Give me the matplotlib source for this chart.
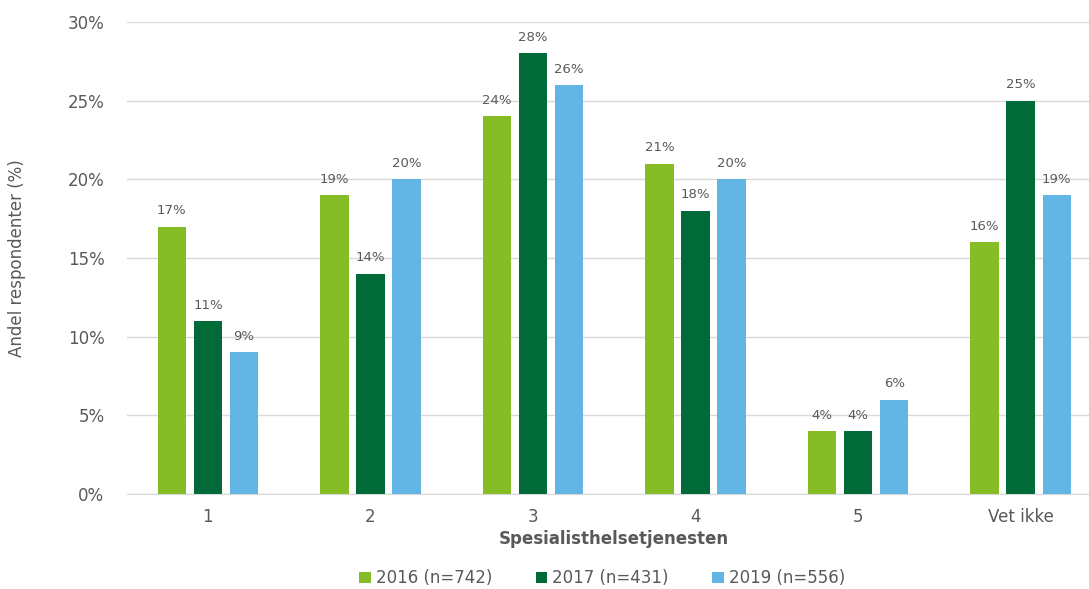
import numpy as np
import matplotlib
matplotlib.use("Agg")
import matplotlib.pyplot as plt
from matplotlib.ticker import FuncFormatter

plt.rcParams["font.family"] = ["DejaVu Sans"]

categories = ["1", "2", "3", "4", "5", "Vet ikke"]
series_labels = ["2016 (n=742)", "2017 (n=431)", "2019 (n=556)"]
values_2016 = [17, 19, 24, 21, 4, 16]
values_2017 = [11, 14, 28, 18, 4, 25]
values_2019 = [9, 20, 26, 20, 6, 19]

COLORS = ["#86BC25", "#006A38", "#62B5E5"]
TEXT = "#595959"

fig = plt.figure(figsize=(10.89, 5.89), dpi=100)
ax = fig.add_axes([0.1163, 0.1613, 0.8956, 0.8013])

x = np.arange(len(categories))
width = 0.175
step = 0.222
for i, (vals, label) in enumerate(zip([values_2016, values_2017, values_2019], series_labels)):
    pos = x + (i - 1) * step
    bars = ax.bar(pos, vals, width, color=COLORS[i], label=label, zorder=3)
    for b, v in zip(bars, vals):
        ax.text(b.get_x() + b.get_width() / 2, v + 0.6, f"{v}%", ha="center", va="bottom",
                fontsize=9.5, color=TEXT)

ax.set_xlim(-0.5, len(categories) - 0.5)
ax.set_ylim(0, 30)
ax.set_yticks(range(0, 31, 5))
ax.yaxis.set_major_formatter(FuncFormatter(lambda v, _: f"{v:.0f}%"))
ax.set_xticks(x)
ax.set_xticklabels(categories)
ax.tick_params(axis="both", length=0, labelsize=12, colors=TEXT)
ax.tick_params(axis="x", pad=10)
ax.tick_params(axis="y", pad=16)
ax.grid(axis="y", color="#D9D9D9", linewidth=1, zorder=0)
for s in ["top", "right", "left"]:
    ax.spines[s].set_visible(False)
ax.spines["bottom"].set_color("#D9D9D9")

ax.set_xlabel("Spesialisthelsetjenesten", fontsize=12, fontweight="bold", color=TEXT, labelpad=3)
ax.set_ylabel("Andel respondenter (%)", fontsize=12, color=TEXT, labelpad=30)

fig.legend(loc="center", bbox_to_anchor=(0.553, 0.018), ncol=3, frameon=False,
           fontsize=12, labelcolor=TEXT, handlelength=0.7, handleheight=0.7,
           handletextpad=0.3, columnspacing=2.6)

fig.savefig("out.png", dpi=100)
